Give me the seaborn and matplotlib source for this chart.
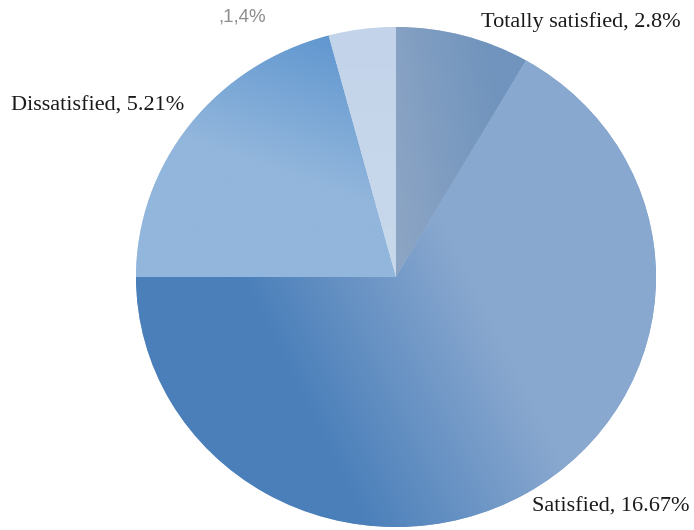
import numpy as np
import matplotlib
matplotlib.use("Agg")
import matplotlib.pyplot as plt
import seaborn as sns
from matplotlib.colors import to_rgb

# Survey responses (counts) and their labels
categories = ["Totally satisfied", "Satisfied", "Dissatisfied", ""]
counts = [2, 16, 5, 1]
percents = [8, 67, 21, 4]
labels = ["Totally satisfied, 2.8%", "Satisfied, 16.67%", "Dissatisfied, 5.21%", ",1,4%"]

# Per-slice gradient: (start colour, end colour, direction, t_start, t_end)
shading = [
    ("#8ba4c4", "#7094bd", (1.0, 0.15), 0.05, 0.5),
    ("#4a7fba", "#89a8cf", (0.9, 0.43), -0.55, 0.25),
    ("#92b6dc", "#5590cd", (0.35, 0.95), 0.25, 0.95),
    ("#c9d9ec", "#c3d4ea", (0.0, 1.0), 0.0, 1.0),
]

sns.set_theme(style="white")
plt.rcParams["font.family"] = ["Liberation Serif", "DejaVu Serif"]

W, H, DPI = 694, 530, 100
fig = plt.figure(figsize=(W / DPI, H / DPI), dpi=DPI)
ax = fig.add_axes([0, 0, 1, 1])

wedges, _ = ax.pie(counts, startangle=90, counterclock=False,
                   colors=[s[0] for s in shading],
                   wedgeprops=dict(linewidth=0.8, edgecolor=(1, 1, 1, 0.35)))

n = 500
xs = np.linspace(-1.02, 1.02, n)
X, Y = np.meshgrid(xs, xs)
for wedge, (c0, c1, d, t0, t1) in zip(wedges, shading):
    d = np.array(d) / np.hypot(*d)
    t = np.clip((X * d[0] + Y * d[1] - t0) / (t1 - t0), 0, 1)[..., None]
    rgb = (1 - t) * np.array(to_rgb(c0)) + t * np.array(to_rgb(c1))
    im = ax.imshow(rgb, extent=(-1.02, 1.02, -1.02, 1.02), origin="lower",
                   interpolation="bilinear", zorder=wedge.get_zorder() + 0.1)
    im.set_clip_path(wedge)

# pie centre at (396, 277) px; slightly squashed: 260 px wide radius, 250 px tall
cx, cy, rx, ry = 396, 277, 260, 250
ax.set_xlim(-cx / rx, (W - cx) / rx)
ax.set_ylim(-(H - cy) / ry, cy / ry)
ax.set_aspect("auto")
ax.axis("off")

serif = dict(fontsize=16, color="#1a1a1a")
fig.text(481 / W, 1 - 22 / H, labels[0], ha="left", va="center", **serif)
fig.text(532 / W, 1 - 507 / H, labels[1], ha="left", va="center", **serif)
fig.text(11 / W, 1 - 106 / H, labels[2], ha="left", va="center", **serif)
fig.text(218 / W, 1 - 17 / H, labels[3], ha="left", va="center",
         fontsize=13.5, color="#8e8e8e", family=["Liberation Sans", "DejaVu Sans"])

fig.savefig("out.png", dpi=DPI)
